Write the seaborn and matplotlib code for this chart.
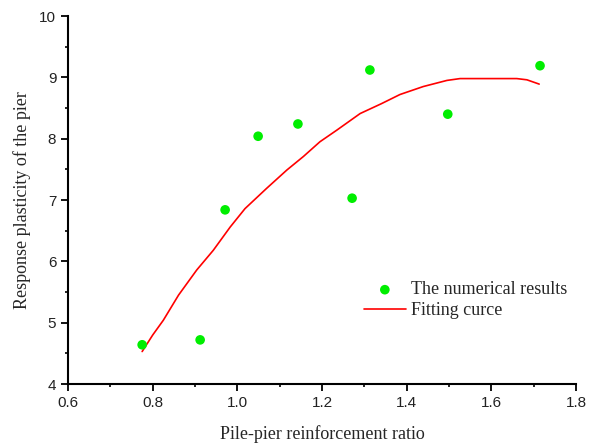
import numpy as np
import pandas as pd
import matplotlib.pyplot as plt
from matplotlib.ticker import MultipleLocator, FormatStrFormatter
import seaborn as sns

sns.set_style("ticks")

# numerical results (scatter)
ratio_pts = [0.775, 0.912, 0.971, 1.049, 1.143, 1.271, 1.313, 1.497, 1.715]
plast_pts = [4.64, 4.72, 6.84, 8.04, 8.24, 7.03, 9.12, 8.40, 9.19]

# fitting curve
ratio_fit = [0.775, 0.800, 0.825, 0.861, 0.904, 0.943, 0.983, 1.018, 1.069, 1.117,
             1.156, 1.195, 1.235, 1.290, 1.340, 1.384, 1.439, 1.495, 1.526, 1.600,
             1.660, 1.684, 1.713]
plast_fit = [4.53, 4.80, 5.04, 5.45, 5.86, 6.18, 6.56, 6.86, 7.19, 7.49,
             7.71, 7.95, 8.14, 8.41, 8.57, 8.72, 8.85, 8.95, 8.98, 8.98,
             8.98, 8.96, 8.89]

df_pts = pd.DataFrame({"ratio": ratio_pts, "plasticity": plast_pts})
df_fit = pd.DataFrame({"ratio": ratio_fit, "plasticity": plast_fit})

fig, ax = plt.subplots(figsize=(5.92, 4.45), dpi=100)
fig.subplots_adjust(left=0.115, right=0.973, top=0.964, bottom=0.137)

sns.scatterplot(data=df_pts, x="ratio", y="plasticity", ax=ax, color="#00ee00",
                s=48, edgecolor="none", label="The numerical results", zorder=3)
sns.lineplot(data=df_fit, x="ratio", y="plasticity", ax=ax, color="#ff0000",
             linewidth=1.2, label="Fitting curce", zorder=2)

ax.xaxis.set_major_locator(MultipleLocator(0.2))
ax.xaxis.set_minor_locator(MultipleLocator(0.1))
ax.xaxis.set_major_formatter(FormatStrFormatter("%.1f"))
ax.yaxis.set_major_locator(MultipleLocator(1))
ax.yaxis.set_minor_locator(MultipleLocator(0.5))
ax.set_xlim(0.6, 1.8)
ax.set_ylim(4, 10)

sns.despine(ax=ax)
for sp in ["left", "bottom"]:
    ax.spines[sp].set_linewidth(1.5)
    ax.spines[sp].set_color("black")
ax.tick_params(which="major", direction="out", length=5, width=1.3, colors="black",
               labelsize=11)
ax.tick_params(which="minor", direction="out", length=2.5, width=1.2, colors="black")
for lab in ax.get_xticklabels() + ax.get_yticklabels():
    lab.set_family("Liberation Sans")
    lab.set_color("#222222")

serif = "Liberation Serif"
ax.set_xlabel("Pile-pier reinforcement ratio", family=serif, fontsize=13, labelpad=11)
ax.set_ylabel("Response plasticity of the pier", family=serif, fontsize=13, labelpad=6)

leg = ax.legend(loc="lower right", bbox_to_anchor=(0.997, 0.157), frameon=False,
                prop={"family": serif, "size": 13}, handlelength=2.3,
                handletextpad=0.3, labelspacing=0.2, borderaxespad=0)

plt.savefig("out.png", dpi=100)
